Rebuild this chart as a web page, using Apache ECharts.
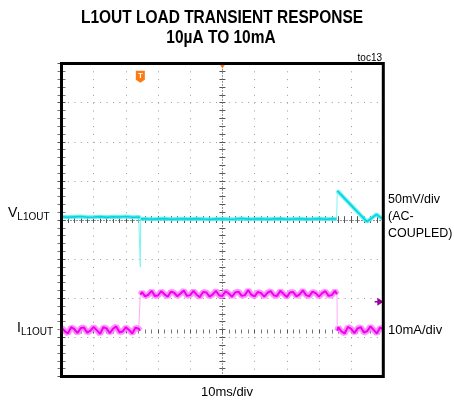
<!DOCTYPE html>
<html>
<head>
<meta charset="utf-8">
<script src="https://cdn.jsdelivr.net/npm/echarts@6/dist/echarts.min.js"></script>
<style>
html,body{margin:0;padding:0;background:#fff;}
#c{width:454px;height:402px;}
</style>
</head>
<body>
<div id="c"></div>
<script>
// ---- data (time in ms, voltage in mV AC-coupled, current in mA) ----
const vTime = [0,2,4,6,8,10,12,14,16,18,20,22,24,24.45,24.5,24.6,
  26,28,30,32,34,36,38,40,42,44,46,48,50,52,54,56,58,60,62,64,66,68,70,72,74,76,78,80,82,84,
  85.5,85.7,87,89,91,93,94.9,96.4,97.9,99,100];
const vValue = [4.2,3.5,4.0,4.5,3.6,3.9,4.3,3.4,4.1,3.8,4.4,3.6,3.9,3.0,-60,1.5,
  1.6,1.0,1.4,1.8,0.9,1.3,1.5,1.1,1.7,1.2,0.8,1.4,1.6,1.0,1.3,1.9,1.1,1.2,1.5,0.9,1.4,1.7,1.0,1.3,1.6,1.1,1.2,1.8,1.0,1.4,
  1.3,37.4,31.8,23.2,14.6,6.0,-2.2,2.5,7.3,3.5,2.0];

const iTime = [0,1,2,3,4,5,6,7,8,9,10,11,12,13,14,15,16,17,18,19,20,21,22,23,24,24.4,24.5,
  25,26,27,28,29,30,31,32,33,34,35,36,37,38,39,40,41,42,43,44,45,46,47,48,49,50,51,52,53,54,
  55,56,57,58,59,60,61,62,63,64,65,66,67,68,69,70,71,72,73,74,75,76,77,78,79,80,81,82,83,84,85,
  85.6,85.7,86,87,88,89,90,91,92,93,94,95,96,97,98,99,100];
const iValue = [0.5,-0.4,-1.0,0.6,0.1,-0.9,0.4,0.5,-0.8,-0.3,0.7,-0.2,-1.1,0.6,0.3,-0.9,0.2,0.8,-0.7,-0.5,0.6,-0.1,-1.0,0.5,0.2,-0.3,8.9,
  9.6,8.5,8.9,9.9,8.6,8.7,9.8,9.0,8.4,9.7,
  9.4,8.5,9.2,10.0,8.6,8.8,9.9,8.9,8.3,9.6,
  9.5,8.4,9.0,9.9,8.7,8.6,9.8,9.2,8.4,9.5,
  9.7,8.6,8.8,10.1,8.9,8.5,9.6,9.3,8.4,9.4,
  9.8,8.7,8.6,9.9,9.1,8.3,9.5,9.6,8.5,9.0,
  10.0,8.8,8.5,9.7,9.3,8.4,9.3,9.8,8.6,8.8,9.9,
  9.0,-0.3,0.6,-0.5,-1.0,0.7,0.2,-0.9,0.3,0.6,-0.8,-0.4,0.8,-0.1,-1.0,0.5,0.1];

const timeRange = [0, 100, 10];      // 10ms/div
const voltRange = [-200, 200, 50];   // 50mV/div
const currRange = [-12, 68, 10];     // 10mA/div

const titleLines = ['L1OUT LOAD TRANSIENT RESPONSE', '10µA TO 10mA'];

const vPairs = vTime.map((t, k) => [t, vValue[k]]);
const iPairs = iTime.map((t, k) => [t, iValue[k]]);
// thick "persistence" band: broken at fast edges so edges stay thin like the scope shot
function band(pairs, jump) {
  const out = [];
  pairs.forEach((p, k) => {
    if (k > 0 && Math.abs(p[1] - pairs[k - 1][1]) > jump) out.push('-');
    out.push(p);
  });
  return out;
}
const vBand = band(vPairs, 20);
const iBand = band(iPairs, 5);

const chart = echarts.init(document.getElementById('c'), null, {renderer: 'canvas'});

const tickCol = '#555';
function xAx(extra) {
  return Object.assign({
    type: 'value', min: timeRange[0], max: timeRange[1], interval: timeRange[2],
    axisLabel: {show: false}, splitLine: {show: false},
    axisLine: {show: false},
    axisTick: {show: true, inside: true, length: 4, lineStyle: {color: tickCol}},
    minorTick: {show: true, splitNumber: 5, length: 4, lineStyle: {color: '#777'}}
  }, extra);
}
function yAx(extra) {
  return Object.assign({
    type: 'value', min: voltRange[0], max: voltRange[1], interval: voltRange[2],
    axisLabel: {show: false}, splitLine: {show: false},
    axisLine: {show: false},
    axisTick: {show: true, inside: true, length: 4, lineStyle: {color: tickCol}},
    minorTick: {show: true, splitNumber: 5, length: 4, lineStyle: {color: '#777'}}
  }, extra);
}
const lineBase = {type: 'line', xAxisIndex: 0, showSymbol: false, symbol: 'none', silent: true, connectNulls: false};
const subRich = {
  a: {fontSize: 14, fontFamily: 'Liberation Sans', fill: '#000'},
  b: {fontSize: 10, fontFamily: 'Liberation Sans', fill: '#000', padding: [9, 0, 0, 0]}
};

const option = {
  animation: false,
  backgroundColor: '#fff',
  grid: {left: 61.5, right: 70.7, top: 63.5, bottom: 25.5, show: true,
         borderColor: '#000', borderWidth: 3, backgroundColor: 'transparent', z: 10},
  xAxis: [
    xAx({position: 'bottom', axisTick: {show: false}, minorTick: {show: false},
         splitLine: {show: true, lineStyle: {color: '#999', width: 1, type: [1, 6.825]}}}),
    xAx({position: 'top'}),
    xAx({position: 'bottom'}),
    xAx({position: 'bottom', offset: -156.5, axisTick: {show: true, inside: false, length: 3, lineStyle: {color: tickCol}},
         minorTick: {show: true, splitNumber: 5, length: 3, lineStyle: {color: tickCol}},
         axisLine: {show: true, lineStyle: {color: '#888', type: [1, 2]}}}),
    xAx({position: 'bottom', offset: -156.5, axisTick: {show: true, inside: true, length: 3, lineStyle: {color: tickCol}},
         minorTick: {show: true, splitNumber: 5, length: 3, lineStyle: {color: tickCol}}})
  ],
  yAxis: [
    yAx({position: 'left',
         splitLine: {show: true, lineStyle: {color: '#999', width: 1, type: [1, 5.436]}}}),
    {type: 'value', min: currRange[0], max: currRange[1], interval: currRange[2], show: false, splitLine: {show: false}},
    yAx({position: 'right'}),
    yAx({position: 'left', offset: -160.9, axisTick: {show: true, inside: false, length: 3, lineStyle: {color: tickCol}},
         minorTick: {show: true, splitNumber: 5, length: 3, lineStyle: {color: tickCol}},
         axisLine: {show: true, lineStyle: {color: '#888', type: [1, 2]}}}),
    yAx({position: 'left', offset: -160.9, axisTick: {show: true, inside: true, length: 3, lineStyle: {color: tickCol}},
         minorTick: {show: true, splitNumber: 5, length: 3, lineStyle: {color: tickCol}}})
  ],
  series: [
    Object.assign({}, lineBase, {name: 'IL1OUT edge', yAxisIndex: 1, data: iPairs,
     lineStyle: {color: '#ffa8ff', width: 1}, z: 3}),
    Object.assign({}, lineBase, {name: 'IL1OUT band', yAxisIndex: 1, data: iBand,
     lineStyle: {color: '#ff80ff', width: 6, opacity: 0.85}, z: 3}),
    Object.assign({}, lineBase, {name: 'IL1OUT', yAxisIndex: 1, data: iBand,
     lineStyle: {color: '#f000f0', width: 2}, z: 4,
     markPoint: {silent: true, symbol: 'path://M10,0 L3,-5 L3,-1 L0,-1 L0,1 L3,1 L3,5 Z', symbolSize: [9, 8],
       itemStyle: {color: '#990099'}, label: {show: false},
       data: [{coord: [98.7, 7.1]}]}}),
    Object.assign({}, lineBase, {name: 'VL1OUT edge', yAxisIndex: 0, data: vPairs,
     lineStyle: {color: '#7ff4f4', width: 1}, z: 5}),
    Object.assign({}, lineBase, {name: 'VL1OUT band', yAxisIndex: 0, data: vBand,
     lineStyle: {color: '#5eeef2', width: 4, opacity: 0.9}, z: 5}),
    Object.assign({}, lineBase, {name: 'VL1OUT', yAxisIndex: 0, data: vBand,
     lineStyle: {color: '#00d6dc', width: 1.6}, z: 6,
     markPoint: {silent: true, data: [
       {coord: [24.5, 183], symbol: 'path://M0,0 L10,0 L10,9 L5,12 L0,9 Z', symbolSize: [9, 12],
        itemStyle: {color: '#ff7a10'}, label: {show: true, formatter: 'T', color: '#fff', fontSize: 8, fontWeight: 'bold', offset: [0, -1]}},
       {coord: [50, 200], symbol: 'triangle', symbolRotate: 180, symbolSize: [8, 6], symbolOffset: [0, 2],
        itemStyle: {color: '#ff7a10'}, label: {show: false}}
     ]}})
  ],
  graphic: [
    {type: 'text', x: 222, y: 9, scaleX: 0.86, style: {text: titleLines[0], textAlign: 'center', font: 'bold 18px "Liberation Sans", Arial', fill: '#000'}},
    {type: 'text', x: 221, y: 29, scaleX: 0.86, style: {text: titleLines[1], textAlign: 'center', font: 'bold 18px "Liberation Sans", Arial', fill: '#000'}},
    {type: 'text', right: 72, top: 53, style: {text: 'toc13', font: '10px "Liberation Sans", Arial', fill: '#000'}},
    {type: 'text', left: 8, top: 206, style: {rich: subRich, text: '{a|V}{b|L1OUT}'}},
    {type: 'text', left: 17, top: 321, style: {rich: subRich, text: '{a|I}{b|L1OUT}'}},
    {type: 'text', x: 388, y: 191, scaleX: 0.96, style: {text: '50mV/div\n(AC-\nCOUPLED)', font: '13px "Liberation Sans", Arial', lineHeight: 17, fill: '#000'}},
    {type: 'text', left: 388, top: 324, style: {text: '10mA/div', font: '13px "Liberation Sans", Arial', fill: '#000'}},
    {type: 'text', left: 'center', top: 386, style: {text: '10ms/div', font: '13px "Liberation Sans", Arial', fill: '#000'}}
  ]
};
chart.setOption(option);
</script>
</body>
</html>
